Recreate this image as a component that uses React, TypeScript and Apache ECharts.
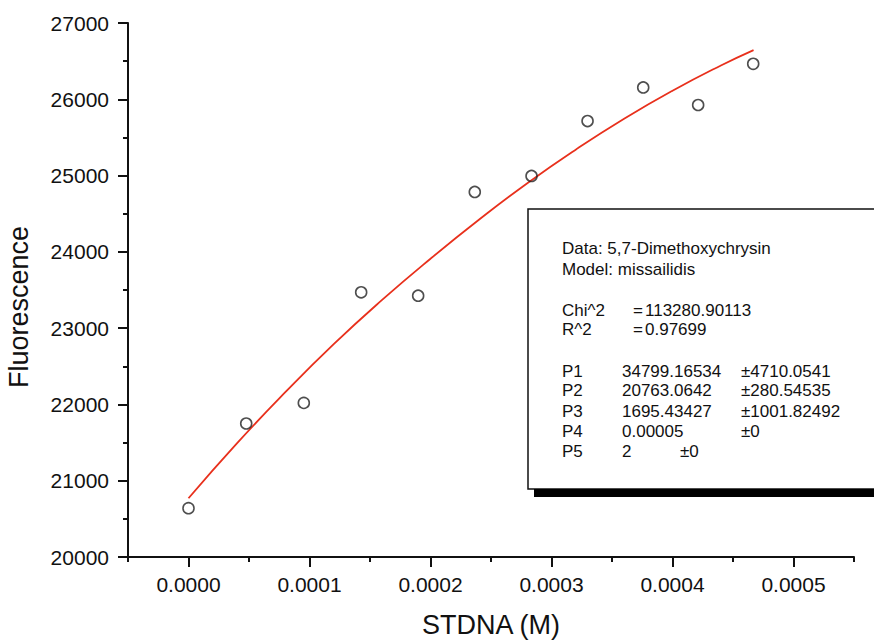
import React, { useEffect, useRef } from "react";
import * as echarts from "echarts";

const concX = [0, 0.0000477, 0.0000953, 0.0001427, 0.0001898, 0.0002366, 0.0002835, 0.0003298, 0.0003758, 0.0004212, 0.0004667];
const fluor = [20640, 21750, 22020, 23470, 23425, 24785, 24995, 25715, 26155, 25925, 26465];

const fitX = [0, 0.00004, 0.00008, 0.00012, 0.00016, 0.0002, 0.00024, 0.00028, 0.00032, 0.00036, 0.0004, 0.00044, 0.000467];
const fitY = [20770, 21490, 22160, 22790, 23370, 23910, 24420, 24900, 25340, 25745, 26112, 26443, 26645];

const xMajorTicks = [0, 0.0001, 0.0002, 0.0003, 0.0004, 0.0005];
const xMinorTicks = [-0.00005, 0.00005, 0.00015, 0.00025, 0.00035, 0.00045, 0.00055];

const infoHeader = ["Data: 5,7-Dimethoxychrysin", "Model: missailidis"];
const statNames = ["Chi^2", "R^2"];
const statValues = ["113280.90113", "0.97699"];
const paramNames = ["P1", "P2", "P3", "P4", "P5"];
const paramValues = ["34799.16534", "20763.0642", "1695.43427", "0.00005", "2"];
const paramErrors = ["±4710.0541", "±280.54535", "±1001.82492", "±0", "±0"];

const FONT = "'Liberation Sans', Arial, Helvetica, sans-serif";

export default function App() {
  const ref = useRef<HTMLDivElement>(null);
  useEffect(() => {
    if (!ref.current) return;
    const chart = echarts.init(ref.current, undefined, { renderer: "svg" });
    const txt = (text: string, x: number, y: number) => ({
      type: "text",
      x,
      y,
      style: { text, fontSize: 17, fontFamily: FONT, fill: "#111", verticalAlign: "middle", align: "left" },
      z: 10,
    });
    const graphics: any[] = [
      {
        type: "rect",
        shape: { x: 528, y: 209, width: 360, height: 280 },
        style: { fill: "#fff", stroke: "#111", lineWidth: 1.5 },
        z: 5,
      },
      {
        type: "rect",
        shape: { x: 534, y: 489, width: 350, height: 8 },
        style: { fill: "#000" },
        z: 6,
      },
      txt(infoHeader[0], 562, 248),
      txt(infoHeader[1], 562, 269),
    ];
    const statY = [310, 329];
    statNames.forEach((n, i) => {
      graphics.push(txt(n, 562, statY[i]));
      graphics.push(txt("=", 633, statY[i]));
      graphics.push(txt(statValues[i], 645, statY[i]));
    });
    const paramY = [371, 390, 411, 431, 451];
    paramNames.forEach((n, i) => {
      graphics.push(txt(n, 562, paramY[i]));
      graphics.push(txt(paramValues[i], 622, paramY[i]));
      graphics.push(txt(paramErrors[i], i === 4 ? 680 : 741, paramY[i]));
    });

    chart.setOption({
      animation: false,
      backgroundColor: "#fff",
      grid: { left: 128, right: 20, top: 23, bottom: 83, containLabel: false, outerBoundsMode: "none" },
      xAxis: [
        {
          type: "value",
          min: -0.00005,
          max: 0.00055,
          position: "bottom",
          name: "STDNA (M)",
          nameLocation: "middle",
          nameGap: 54,
          nameTextStyle: { fontSize: 27, fontFamily: FONT, color: "#111" },
          axisLine: { show: true, onZero: false, lineStyle: { color: "#111", width: 2 } },
          axisTick: { show: true, length: 10, lineStyle: { color: "#111", width: 2 }, customValues: xMajorTicks },
          axisLabel: {
            show: true,
            customValues: xMajorTicks,
            margin: 17,
            fontSize: 21,
            fontFamily: FONT,
            color: "#111",
            formatter: (v: number) => v.toFixed(4),
          },
          splitLine: { show: false },
        },
        {
          type: "value",
          min: -0.00005,
          max: 0.00055,
          position: "bottom",
          axisLine: { show: false, onZero: false },
          axisTick: { show: true, length: 5, lineStyle: { color: "#111", width: 2 }, customValues: xMinorTicks },
          axisLabel: { show: false },
          splitLine: { show: false },
        },
      ],
      yAxis: {
        type: "value",
        min: 20000,
        max: 27000,
        interval: 1000,
        name: "Fluorescence",
        nameLocation: "middle",
        nameGap: 96,
        nameTextStyle: { fontSize: 27, fontFamily: FONT, color: "#111", padding: [0, 34, 0, 0] },
        axisLine: { show: true, onZero: false, lineStyle: { color: "#111", width: 2 } },
        axisTick: { show: true, length: 10, lineStyle: { color: "#111", width: 2 } },
        minorTick: { show: true, splitNumber: 2, length: 5, lineStyle: { color: "#111", width: 2 } },
        axisLabel: {
          margin: 19,
          fontSize: 21,
          fontFamily: FONT,
          color: "#111",
          formatter: (v: number) => String(v),
        },
        splitLine: { show: false },
      },
      series: [
        {
          type: "line",
          xAxisIndex: 0,
          data: fitX.map((x, i) => [x, fitY[i]]),
          smooth: true,
          showSymbol: false,
          lineStyle: { color: "#e8301c", width: 1.8 },
          z: 2,
        },
        {
          type: "scatter",
          xAxisIndex: 0,
          data: concX.map((x, i) => [x, fluor[i]]),
          symbol: "circle",
          symbolSize: 11,
          itemStyle: { color: "rgba(0,0,0,0)", borderColor: "#222", borderWidth: 1.6 },
          z: 3,
        },
      ],
      graphic: graphics,
    });
    return () => chart.dispose();
  }, []);
  return <div ref={ref} style={{ position: "fixed", left: 0, top: 0, width: 874, height: 640 }} />;
}
